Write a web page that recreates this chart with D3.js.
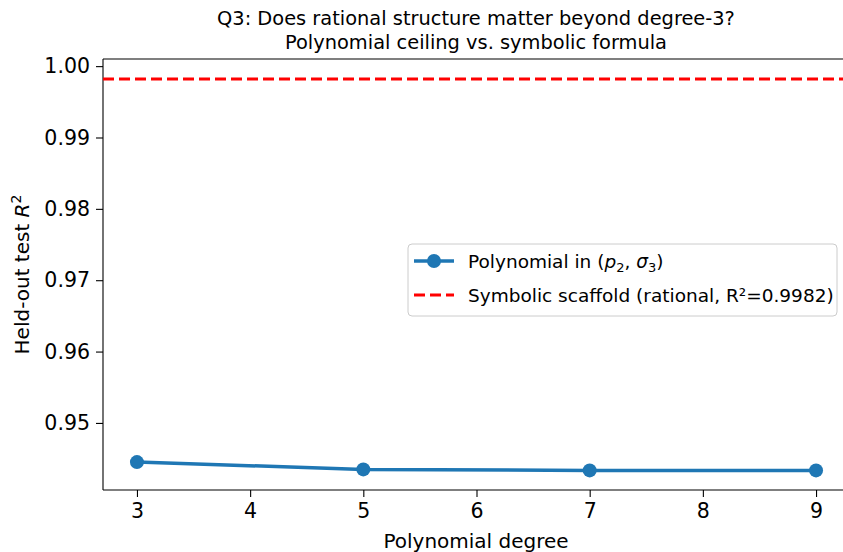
<!DOCTYPE html>
<html>
<head>
<meta charset="utf-8">
<script src="https://cdn.jsdelivr.net/npm/d3@7"></script>
<style>
  body { margin: 0; background: #fff; }
  svg, svg text { font-family: "DejaVu Sans", sans-serif; }
</style>
</head>
<body>
<svg></svg>
<script>
const width = 843;
const height = 552;
const margin = { top: 59, right: -7, bottom: 62, left: 103 };

const degrees = [3, 5, 7, 9];
const polyR2 = [0.94451, 0.94349, 0.94335, 0.94335];
const symbolicR2 = 0.9982;
const xTicks = [3, 4, 5, 6, 7, 8, 9];
const yTicks = [0.95, 0.96, 0.97, 0.98, 0.99, 1.0];

const svg = d3.select("svg").attr("width", width).attr("height", height);

const xScale = d3
  .scaleLinear()
  .domain([2.7, 9.3])
  .range([margin.left, width - margin.right]);

const yScale = d3
  .scaleLinear()
  .domain([0.9406, 1.001])
  .range([height - margin.bottom, margin.top]);

// axes
const xAxis = d3.axisBottom(xScale).tickValues(xTicks).tickFormat(d3.format("d")).tickSize(7).tickPadding(6);
const gx = svg
  .append("g")
  .attr("transform", `translate(0, ${height - margin.bottom})`)
  .call(xAxis);

const yAxis = d3.axisLeft(yScale).tickValues(yTicks).tickFormat(d3.format(".2f")).tickSize(7).tickPadding(6);
const gy = svg
  .append("g")
  .attr("transform", `translate(${margin.left}, 0)`)
  .call(yAxis);

[gx, gy].forEach((g) => {
  g.attr("font-size", null).attr("font-family", null);
  g.select(".domain").remove();
  g.selectAll(".tick line").attr("stroke", "#000").attr("stroke-width", 1.1);
  g.selectAll(".tick text").attr("fill", "#000").style("font-size", "20.5px");
});

// spines
svg.append("line")
  .attr("x1", margin.left).attr("x2", width)
  .attr("y1", margin.top).attr("y2", margin.top)
  .attr("stroke", "#000").attr("stroke-width", 1.1);
svg.append("line")
  .attr("x1", margin.left).attr("x2", width)
  .attr("y1", height - margin.bottom).attr("y2", height - margin.bottom)
  .attr("stroke", "#000").attr("stroke-width", 1.1);
svg.append("line")
  .attr("x1", margin.left).attr("x2", margin.left)
  .attr("y1", margin.top).attr("y2", height - margin.bottom)
  .attr("stroke", "#000").attr("stroke-width", 1.1);

// symbolic reference line
svg.append("line")
  .attr("x1", margin.left).attr("x2", width)
  .attr("y1", yScale(symbolicR2)).attr("y2", yScale(symbolicR2))
  .attr("stroke", "#ff0000").attr("stroke-width", 3)
  .attr("stroke-dasharray", "11,5");

// polynomial line
const line = d3.line().x((d, i) => xScale(degrees[i])).y((d) => yScale(d));
svg.append("path")
  .datum(polyR2)
  .attr("fill", "none")
  .attr("stroke", "#1f77b4")
  .attr("stroke-width", 3.5)
  .attr("d", line);

svg.selectAll("circle.pt")
  .data(polyR2)
  .enter()
  .append("circle")
  .attr("class", "pt")
  .attr("cx", (d, i) => xScale(degrees[i]))
  .attr("cy", (d) => yScale(d))
  .attr("r", 7)
  .attr("fill", "#1f77b4");

// title
const title = svg.append("text")
  .attr("text-anchor", "middle")
  .style("font-size", "19.4px");
title.append("tspan").attr("x", 476).attr("y", 25).text("Q3: Does rational structure matter beyond degree-3?");
title.append("tspan").attr("x", 476).attr("y", 49).text("Polynomial ceiling vs. symbolic formula");

// axis labels
svg.append("text")
  .attr("x", 476).attr("y", 548)
  .attr("text-anchor", "middle")
  .style("font-size", "20px")
  .text("Polynomial degree");

const ylab = svg.append("text")
  .attr("transform", `translate(29, ${(margin.top + height - margin.bottom) / 2}) rotate(-90)`)
  .attr("text-anchor", "middle")
  .style("font-size", "20px");
ylab.append("tspan").text("Held-out test ");
ylab.append("tspan").style("font-style", "italic").text("R");
ylab.append("tspan").attr("dy", -8).style("font-size", "14px").text("2");

// legend
const lg = svg.append("g").attr("transform", "translate(408, 244)");
lg.append("rect")
  .attr("width", 429).attr("height", 72)
  .attr("rx", 4)
  .attr("fill", "#fff").attr("fill-opacity", 0.8)
  .attr("stroke", "#cccccc").attr("stroke-width", 1);
lg.append("line")
  .attr("x1", 6).attr("x2", 46).attr("y1", 17).attr("y2", 17)
  .attr("stroke", "#1f77b4").attr("stroke-width", 3.5);
lg.append("circle").attr("cx", 26).attr("cy", 17).attr("r", 7).attr("fill", "#1f77b4");
lg.append("line")
  .attr("x1", 6).attr("x2", 46).attr("y1", 51).attr("y2", 51)
  .attr("stroke", "#ff0000").attr("stroke-width", 3)
  .attr("stroke-dasharray", "11,5");

const t1 = lg.append("text").attr("x", 60).attr("y", 24).style("font-size", "18.5px");
t1.append("tspan").text("Polynomial in (");
t1.append("tspan").style("font-style", "italic").text("p");
t1.append("tspan").attr("dy", 4).style("font-size", "13px").text("2");
t1.append("tspan").attr("dy", -4).text(", ");
t1.append("tspan").style("font-style", "italic").text("σ");
t1.append("tspan").attr("dy", 4).style("font-size", "13px").text("3");
t1.append("tspan").attr("dy", -4).text(")");

lg.append("text").attr("x", 60).attr("y", 58).style("font-size", "18.5px")
  .text("Symbolic scaffold (rational, R²=0.9982)");
</script>
</body>
</html>
